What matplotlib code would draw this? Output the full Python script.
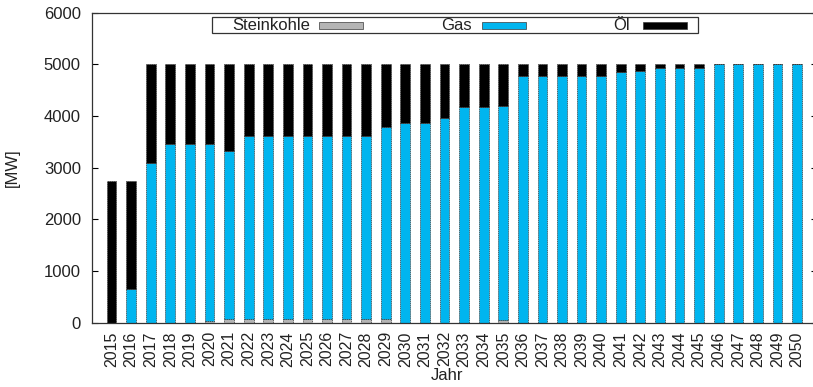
import matplotlib
matplotlib.use("Agg")
import matplotlib.pyplot as plt
from matplotlib.patches import Rectangle
import numpy as np

plt.rcParams['font.family'] = ['Liberation Sans', 'DejaVu Sans']

years = [str(y) for y in range(2015, 2051)]
steinkohle = [0, 0, 0, 0, 0, 30, 70, 70, 70, 70, 70, 70, 70, 70, 70, 0, 0, 0,
              0, 0, 50, 0, 0, 0, 0, 0, 0, 0, 0, 0, 0, 0, 0, 0, 0, 0]
gas = [0, 650, 3100, 3450, 3450, 3420, 3260, 3550, 3550, 3550, 3550, 3550, 3550,
       3550, 3710, 3870, 3870, 3960, 4180, 4180, 4150, 4770, 4770, 4770, 4770,
       4770, 4850, 4880, 4930, 4930, 4930, 5000, 5000, 5000, 5000, 5000]
oel = [2750, 2100, 1900, 1550, 1550, 1550, 1670, 1380, 1380, 1380, 1380, 1380,
       1380, 1380, 1220, 1130, 1130, 1040, 820, 820, 800, 230, 230, 230, 230,
       230, 150, 120, 70, 70, 70, 0, 0, 0, 0, 0]

labels = ['Steinkohle', 'Gas', 'Öl']
colors = ['#b4b4b4', '#00b5ef', '#000000']

W, H = 813, 387
fig = plt.figure(figsize=(W / 100, H / 100), dpi=100)
ax = fig.add_axes([92 / W, 1 - 322.8 / H, (816.6 - 92) / W, (322.8 - 12.7) / H])

x = np.arange(len(years))
c = np.array(steinkohle, float)
g = np.array(gas, float)
o = np.array(oel, float)
ekw = dict(edgecolor='#3a3a3a', linewidth=0.5, linestyle=(0, (2, 1)))
ax.bar(x, c, 0.5, color=colors[0], **ekw)
ax.bar(x, g, 0.5, bottom=c, color=colors[1], **ekw)
ax.bar(x, o, 0.5, bottom=c + g, color=colors[2], **ekw)

FS = 12
ax.set_xlim(-1, 36)
ax.set_ylim(0, 6000)
ax.set_yticks(range(0, 6001, 1000))
ax.set_xticks(x)
ax.set_xticklabels(years, rotation=90, fontsize=11.5, color='#222222')
ax.tick_params(axis='x', length=0, pad=6)
ax.tick_params(axis='y', direction='in', length=4, labelsize=FS, right=True, pad=8,
               labelcolor='#222222')
for sp in ax.spines.values():
    sp.set_color('#333333')
    sp.set_linewidth(0.9)
ax.set_xlabel('Jahr', fontsize=FS, color='#222222', va='center')
ax.xaxis.set_label_coords(0.49, -(376 - 322.8) / 310.1)
ax.set_ylabel('[MW]', fontsize=FS, color='#222222')
ax.yaxis.set_label_coords(-0.1, 0.5)

# gnuplot-style horizontal key
def fx(px):
    return px / W
def fy(py):
    return 1 - py / H
fig.patches.append(Rectangle((fx(211.5), fy(33.3)), fx(697.5) - fx(211.5), fy(16.7) - fy(33.3),
                             transform=fig.transFigure, facecolor='white',
                             edgecolor='#333333', linewidth=0.9, zorder=5))
text_right = [310, 472, 630]
sw_left = [319, 482, 643]
for lab, col, tr, sl in zip(labels, colors, text_right, sw_left):
    fig.text(fx(tr), fy(30.3), lab, ha='right', va='baseline', fontsize=FS,
             color='#222222', zorder=6)
    fig.patches.append(Rectangle((fx(sl), fy(28.5)), 44 / W, 7 / H,
                                 transform=fig.transFigure, facecolor=col,
                                 edgecolor='#3a3a3a', linewidth=0.5, zorder=6))

fig.savefig('out.png', dpi=100)
